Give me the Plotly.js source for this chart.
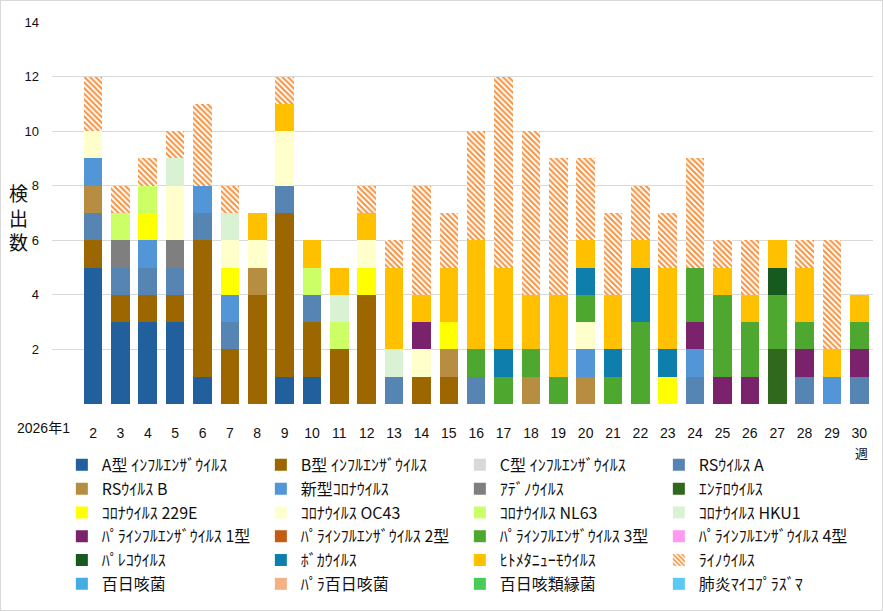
<!DOCTYPE html>
<html>
<head>
<meta charset="utf-8">
<script src="https://cdn.plot.ly/plotly-3.0.1.min.js"></script>
<style>
  html, body { margin: 0; padding: 0; background: #fff; }
  #frame { width: 883px; height: 611px; box-sizing: border-box; border: 1px solid #d9d9d9; }
  #chart { width: 881px; height: 609px; }
</style>
</head>
<body>
<div id="frame"><div id="chart"></div></div>
<script>
// ── 週ラベル ─────────────────────────────────────────────
const weeks = ['2026年1', '2', '3', '4', '5', '6', '7', '8', '9', '10',
  '11', '12', '13', '14', '15', '16', '17', '18', '19', '20',
  '21', '22', '23', '24', '25', '26', '27', '28', '29', '30'];
// 最初のラベルは Excel と同じく左に寄せて注釈で描く
const weekTickText = weeks.map((w, i) => i === 0 ? '' : w);

// ── 検出数（週1〜30）──────────────────────────────────────
const fluA      = [0,5,3,3,3,1,0,0,1,1,0,0,0,0,0,0,0,0,0,0,0,0,0,0,0,0,0,0,0,0];
const fluB      = [0,1,1,1,1,5,2,4,6,2,2,4,0,1,1,0,0,0,0,0,0,0,0,0,0,0,0,0,0,0];
const fluC      = [0,0,0,0,0,0,0,0,0,0,0,0,0,0,0,0,0,0,0,0,0,0,0,0,0,0,0,0,0,0];
const rsvA      = [0,1,1,1,1,1,1,0,1,1,0,0,1,0,0,1,0,0,0,0,0,0,0,1,0,0,0,1,0,1];
const rsvB      = [0,1,0,0,0,0,0,1,0,0,0,0,0,0,1,0,0,1,0,1,0,0,0,0,0,0,0,0,0,0];
const sarsCoV2  = [0,1,0,1,0,1,1,0,0,0,0,0,0,0,0,0,0,0,0,1,0,0,0,1,0,0,0,0,1,0];
const adeno     = [0,0,1,0,1,0,0,0,0,0,0,0,0,0,0,0,0,0,0,0,0,0,0,0,0,0,0,0,0,0];
const entero    = [0,0,0,0,0,0,0,0,0,0,0,0,0,0,0,0,0,0,0,0,0,0,0,0,0,0,2,0,0,0];
const cov229E   = [0,0,0,1,0,0,1,0,0,0,0,1,0,0,1,0,0,0,0,0,0,0,1,0,0,0,0,0,0,0];
const covOC43   = [0,1,0,0,2,0,1,1,2,0,0,1,0,1,0,0,0,0,0,1,0,0,0,0,0,0,0,0,0,0];
const covNL63   = [0,0,1,1,0,0,0,0,0,1,1,0,0,0,0,0,0,0,0,0,0,0,0,0,0,0,0,0,0,0];
const covHKU1   = [0,0,0,0,1,0,1,0,0,0,1,0,1,0,0,0,0,0,0,0,0,0,0,0,0,0,0,0,0,0];
const para1     = [0,0,0,0,0,0,0,0,0,0,0,0,0,1,0,0,0,0,0,0,0,0,0,1,1,1,0,1,0,1];
const para2     = [0,0,0,0,0,0,0,0,0,0,0,0,0,0,0,0,0,0,0,0,0,0,0,0,0,0,0,0,0,0];
const para3     = [0,0,0,0,0,0,0,0,0,0,0,0,0,0,0,1,1,1,1,1,1,3,0,2,3,2,2,1,0,1];
const para4     = [0,0,0,0,0,0,0,0,0,0,0,0,0,0,0,0,0,0,0,0,0,0,0,0,0,0,0,0,0,0];
const parecho   = [0,0,0,0,0,0,0,0,0,0,0,0,0,0,0,0,0,0,0,0,0,0,0,0,0,0,1,0,0,0];
const boca      = [0,0,0,0,0,0,0,0,0,0,0,0,0,0,0,0,1,0,0,1,1,2,1,0,0,0,0,0,0,0];
const hmpv      = [0,0,0,0,0,0,0,1,1,1,1,1,3,1,2,4,3,2,3,1,2,1,3,0,1,1,1,2,1,1];
const rhino     = [0,2,1,1,1,3,1,0,1,0,0,1,1,4,2,4,7,6,5,3,3,2,2,4,1,2,0,1,4,0];
const pertussis = [0,0,0,0,0,0,0,0,0,0,0,0,0,0,0,0,0,0,0,0,0,0,0,0,0,0,0,0,0,0];
const parapert  = [0,0,0,0,0,0,0,0,0,0,0,0,0,0,0,0,0,0,0,0,0,0,0,0,0,0,0,0,0,0];
const holmesii  = [0,0,0,0,0,0,0,0,0,0,0,0,0,0,0,0,0,0,0,0,0,0,0,0,0,0,0,0,0,0];
const mycoplasma= [0,0,0,0,0,0,0,0,0,0,0,0,0,0,0,0,0,0,0,0,0,0,0,0,0,0,0,0,0,0];

// ── 系列（積み上げ順＝凡例順）──────────────────────────────
const series = [
  { name: 'A型 ｲﾝﾌﾙｴﾝｻﾞｳｲﾙｽ',     y: fluA,      color: '#21609c' },
  { name: 'B型 ｲﾝﾌﾙｴﾝｻﾞｳｲﾙｽ',     y: fluB,      color: '#9c6600' },
  { name: 'C型 ｲﾝﾌﾙｴﾝｻﾞｳｲﾙｽ',     y: fluC,      color: '#d9d9d9' },
  { name: 'RSｳｲﾙｽ A',              y: rsvA,      color: '#1c5a98', pattern: 'dots' },
  { name: 'RSｳｲﾙｽ B',              y: rsvB,      color: '#9c6600', pattern: 'dots' },
  { name: '新型ｺﾛﾅｳｲﾙｽ',           y: sarsCoV2,  color: '#5296d8' },
  { name: 'ｱﾃﾞﾉｳｲﾙｽ',              y: adeno,     color: '#7f7f7f' },
  { name: 'ｴﾝﾃﾛｳｲﾙｽ',              y: entero,    color: '#30691e' },
  { name: 'ｺﾛﾅｳｲﾙｽ 229E',          y: cov229E,   color: '#ffff00' },
  { name: 'ｺﾛﾅｳｲﾙｽ OC43',          y: covOC43,   color: '#ffffcc' },
  { name: 'ｺﾛﾅｳｲﾙｽ NL63',          y: covNL63,   color: '#ccff66' },
  { name: 'ｺﾛﾅｳｲﾙｽ HKU1',          y: covHKU1,   color: '#daf2d4' },
  { name: 'ﾊﾟﾗｲﾝﾌﾙｴﾝｻﾞｳｲﾙｽ 1型',   y: para1,     color: '#7a226c' },
  { name: 'ﾊﾟﾗｲﾝﾌﾙｴﾝｻﾞｳｲﾙｽ 2型',   y: para2,     color: '#c55a11' },
  { name: 'ﾊﾟﾗｲﾝﾌﾙｴﾝｻﾞｳｲﾙｽ 3型',   y: para3,     color: '#4ea72e' },
  { name: 'ﾊﾟﾗｲﾝﾌﾙｴﾝｻﾞｳｲﾙｽ 4型',   y: para4,     color: '#ff99f2' },
  { name: 'ﾊﾟﾚｺｳｲﾙｽ',              y: parecho,   color: '#165a20' },
  { name: 'ﾎﾞｶｳｲﾙｽ',               y: boca,      color: '#0e7eac' },
  { name: 'ﾋﾄﾒﾀﾆｭｰﾓｳｲﾙｽ',          y: hmpv,      color: '#ffc000' },
  { name: 'ﾗｲﾉｳｲﾙｽ',               y: rhino,     color: '#f7913d', pattern: 'stripes' },
  { name: '百日咳菌',              y: pertussis, color: '#43ade3' },
  { name: 'ﾊﾟﾗ百日咳菌',           y: parapert,  color: '#f4b183' },
  { name: '百日咳類縁菌',          y: holmesii,  color: '#46cc57' },
  { name: '肺炎ﾏｲｺﾌﾟﾗｽﾞﾏ',         y: mycoplasma,color: '#5bc8f5' }
];

function makeMarker(s) {
  if (s.pattern === 'dots') {
    return { color: s.color, pattern: { shape: '.', fillmode: 'replace', bgcolor: '#ffffff', size: 2, solidity: 0.75 } };
  }
  if (s.pattern === 'stripes') {
    return { color: s.color, pattern: { shape: '\\', fillmode: 'replace', bgcolor: '#ffffff', size: 4, solidity: 0.5 } };
  }
  return { color: s.color };
}

const traces = series.map(s => ({
  type: 'bar',
  name: s.name,
  x: weeks,
  y: s.y,
  marker: makeMarker(s),
  hovertemplate: '%{x}週 ' + s.name + ': %{y}<extra></extra>'
}));

const FONT = '"Liberation Sans", "Noto Sans CJK JP", sans-serif';
const JP_FONT = '"Noto Sans CJK JP", "Liberation Sans", sans-serif';

const layout = {
  width: 881,
  height: 609,
  paper_bgcolor: '#ffffff',
  plot_bgcolor:  '#ffffff',
  font:   { family: FONT, color: '#111111', size: 14 },
  margin: { t: 21, b: 198, l: 51, r: 9 },
  barmode: 'stack',
  bargap: 0.32,
  showlegend: true,
  xaxis: {
    type: 'category',
    tickmode: 'array',
    tickvals: weeks,
    ticktext: weekTickText,
    tickangle: 0,
    tickfont: { size: 14 },
    ticklabelstandoff: 19,
    showgrid: false,
    showline: false,
    ticks: '',
    automargin: false,
    fixedrange: true
  },
  yaxis: {
    range: [0, 14],
    tickmode: 'array',
    tickvals: [0, 2, 4, 6, 8, 10, 12, 14],
    ticktext: ['', '2', '4', '6', '8', '10', '12', '14'],
    tickfont: { size: 13 },
    gridcolor: '#d9d9d9',
    gridwidth: 1,
    zeroline: false,
    showline: false,
    ticks: '',
    ticklabelstandoff: 12,
    automargin: false,
    fixedrange: true
  },
  legend: {
    orientation: 'h',
    x: 0.012,
    xanchor: 'left',
    y: -0.115,
    yanchor: 'top',
    font: { family: JP_FONT, size: 16, color: '#111111' },
    entrywidth: 154,
    entrywidthmode: 'pixels',
    traceorder: 'normal',
    itemwidth: 30
  },
  annotations: [
    {
      text: weeks[0],
      xref: 'paper', yref: 'paper',
      x: -9 / 821, y: -0.064,
      xanchor: 'center', yanchor: 'middle',
      showarrow: false,
      font: { family: FONT, size: 14, color: '#111111' }
    },
    {
      text: '検<br>出<br>数',
      xref: 'paper', yref: 'paper',
      x: -34 / 821, y: 0.49,
      xanchor: 'center', yanchor: 'middle',
      showarrow: false,
      font: { family: JP_FONT, size: 19, color: '#111111' }
    },
    {
      text: '週',
      xref: 'paper', yref: 'paper',
      x: 1 - 12 / 821, y: -0.128,
      xanchor: 'center', yanchor: 'middle',
      showarrow: false,
      font: { family: JP_FONT, size: 13, color: '#111111' }
    }
  ]
};

Plotly.newPlot('chart', traces, layout, { displayModeBar: false, responsive: false });
</script>
</body>
</html>
